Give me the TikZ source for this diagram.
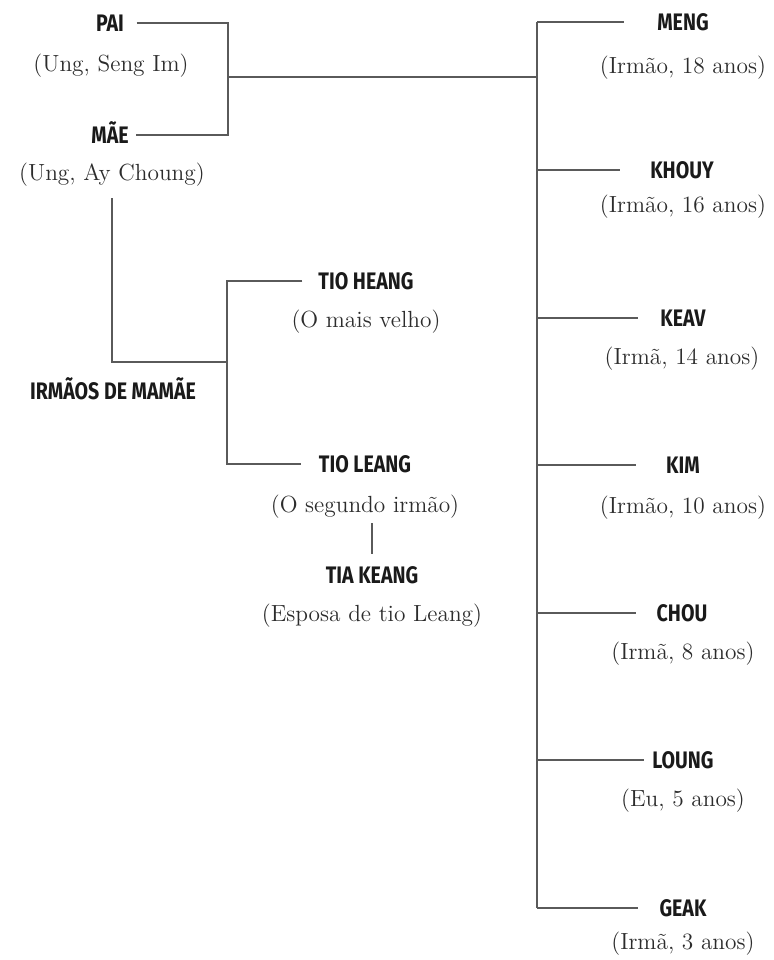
\documentclass[tikz,border=0pt]{standalone}
\usepackage{fontspec}
\newfontfamily\namefont[FakeStretch=0.82]{Fira Sans}
\definecolor{ink}{HTML}{1A1A1A}
\definecolor{softink}{HTML}{2C2C2C}
\definecolor{wire}{HTML}{5A5A5A}

\begin{document}
\begin{tikzpicture}[x=0.02cm,y=-0.02cm]
  \tikzset{namebox/.style={font=\namefont\bfseries\fontsize{13.6}{15}\selectfont,text=ink,inner sep=0pt,text height=9.4pt,text depth=0pt}}
  \tikzset{notebox/.style={font=\fontsize{13.3}{16}\selectfont,text=softink,inner sep=0pt,text height=10pt,text depth=3pt}}
  \tikzset{tie/.style={draw=wire,line width=0.85pt}}
  \useasboundingbox (0,0) rectangle (774,960);
  % parents
  \node[namebox] (pai) at (110,23) {PAI};
  \node[notebox] (paisub) at (111,65) {(Ung, Seng Im)};
  \node[namebox] (mae) at (110,135) {MÃE};
  \node[notebox] (maesub) at (112,174) {(Ung, Ay Choung)};
  % mother's side
  \node[namebox] (irmaos) at (113,391) {IRMÃOS DE MAMÃE};
  \node[namebox] (heang) at (366,281) {TIO HEANG};
  \node[notebox] (heangsub) at (366,321) {(O mais velho)};
  \node[namebox] (leang) at (365,464) {TIO LEANG};
  \node[notebox] (leangsub) at (365,506) {(O segundo irmão)};
  \node[namebox] (keang) at (372,575) {TIA KEANG};
  \node[notebox] (keangsub) at (372,615) {(Esposa de tio Leang)};
  % children
  \node[namebox] (meng) at (683,22) {MENG};
  \node[notebox] (mengsub) at (683,67) {(Irmão, 18 anos)};
  \node[namebox] (khouy) at (682,170) {KHOUY};
  \node[notebox] (khouysub) at (683,206) {(Irmão, 16 anos)};
  \node[namebox] (keav) at (683,318) {KEAV};
  \node[notebox] (keavsub) at (682,358) {(Irmã, 14 anos)};
  \node[namebox] (kim) at (683,465) {KIM};
  \node[notebox] (kimsub) at (683,507) {(Irmão, 10 anos)};
  \node[namebox] (chou) at (682,613) {CHOU};
  \node[notebox] (chousub) at (683,653) {(Irmã, 8 anos)};
  \node[namebox] (loung) at (683,760) {LOUNG};
  \node[notebox] (loungsub) at (683,800) {(Eu, 5 anos)};
  \node[namebox] (geak) at (683,908) {GEAK};
  \node[notebox] (geaksub) at (683,943) {(Irmã, 3 anos)};
  % junctions
  \coordinate (jpar) at (228,77);
  \coordinate (spine) at (537,77);
  \coordinate (juncle) at (227,362);
  \draw[tie] ([xshift=7pt]pai.east) -| (jpar) |- ([xshift=4pt]mae.east);
  \draw[tie] (jpar) -- (spine);
  \draw[tie] (spine |- meng) -- (spine |- geak);
  \draw[tie] (spine |- meng) -- ([xshift=-18.7pt]meng.west);
  \draw[tie] (spine |- khouy) -- ([xshift=-17pt]khouy.west);
  \draw[tie] (spine |- keav) -- ([xshift=-12.5pt]keav.west);
  \draw[tie] (spine |- kim) -- ([xshift=-17pt]kim.west);
  \draw[tie] (spine |- chou) -- ([xshift=-11.3pt]chou.west);
  \draw[tie] (spine |- loung) -- ([xshift=-4.5pt]loung.west);
  \draw[tie] (spine |- geak) -- ([xshift=-12pt]geak.west);
  \draw[tie,shorten <=7pt] (maesub.south) |- (juncle);
  \draw[tie] ([xshift=-9pt]heang.west) -| (juncle) |- ([xshift=-10pt]leang.west);
  \draw[tie,shorten <=3pt,shorten >=7pt] (leangsub.south -| keang.north) -- (keang.north);
\end{tikzpicture}
\end{document}
